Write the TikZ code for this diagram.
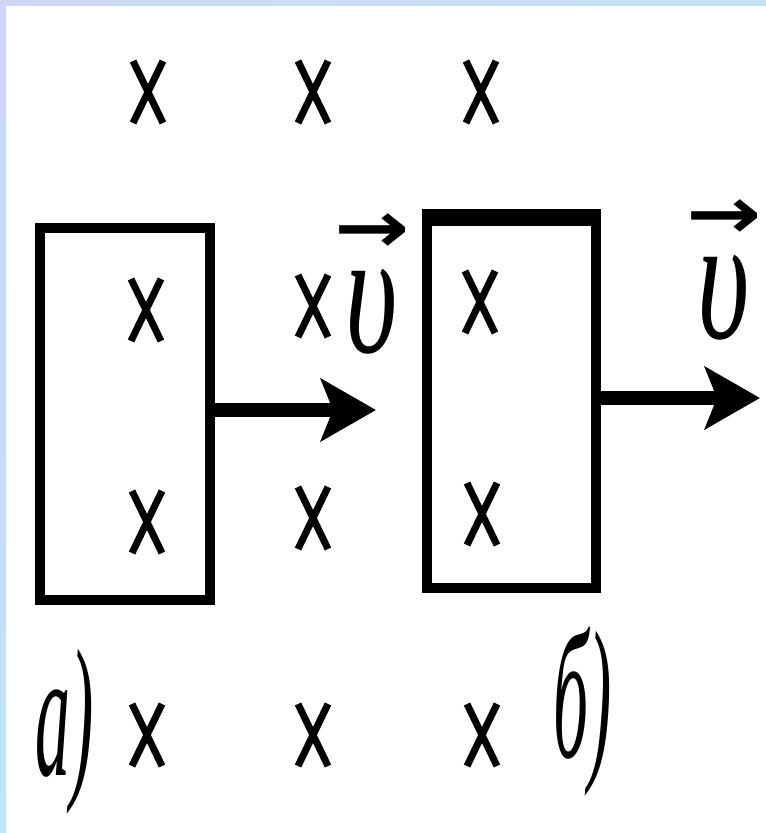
\documentclass[tikz,border=0pt]{standalone}
\usepackage{fontspec}
\setmainfont{Liberation Serif}
\newfontfamily\arrowfont{DejaVu Sans}
\usetikzlibrary{shapes.misc,arrows.meta}
\definecolor{edgeA}{RGB}{205,215,245}
\definecolor{edgeB}{RGB}{225,208,245}
\definecolor{edgeC}{RGB}{195,225,245}
\begin{document}
\begin{tikzpicture}[x=1pt,y=-1pt,
  fieldx/.style={cross out, draw, line width=7pt, minimum width=30pt, minimum height=62pt, inner sep=0pt, outer sep=0pt},
  frame/.style={draw, line width=10pt, inner sep=0pt, outer sep=0pt},
  vel/.style={line width=14pt, -{Stealth[length=55pt,width=62pt,inset=12pt]}},
  lbl/.style={font=\fontsize{70}{70}\selectfont\itshape, inner sep=0pt, anchor=base west},
  vlbl/.style={font=\fontsize{30}{30}\selectfont, inner sep=0pt, align=center}
]
\useasboundingbox (0,0) rectangle (766,833);
\fill[white] (0,0) rectangle (766,833);
\shade[left color=edgeA, middle color=edgeB, right color=edgeC] (0,0) rectangle (766,5);
\shade[top color=edgeA, bottom color=edgeC] (0,0) rectangle (6,833);

% frames
\node[frame, minimum width=170pt, minimum height=372pt] (boxa) at (125,414) {};
\node[frame, minimum width=169pt, minimum height=371pt] (boxb) at (511.5,402.5) {};
\draw[line width=17pt] ([xshift=-5pt]boxb.north west) -- ([xshift=5pt]boxb.north east);

% velocity arrows
\coordinate (tipa) at (376,410);
\coordinate (tipb) at (760,398);
\draw[vel] (boxa.east |- tipa) -- (tipa);
\draw[vel] (boxb.east |- tipb) -- (tipb);

% field crosses
\node[fieldx] (x11) at (148,92) {};
\node[fieldx] (x12) at (313,92) {};
\node[fieldx] (x13) at (481,92) {};
\node[fieldx] (x21) at (146,310) {};
\node[fieldx] (x22) at (313,306) {};
\node[fieldx] (x23) at (480,302) {};
\node[fieldx] (x31) at (147,522) {};
\node[fieldx] (x32) at (313,518) {};
\node[fieldx] (x33) at (482,514) {};
\node[fieldx] (x41) at (147,735) {};
\node[fieldx] (x42) at (313,735) {};
\node[fieldx] (x43) at (482,735) {};

% velocity labels
\node[vlbl] (va) at (372,284) {\scalebox{3}[2.4]{\arrowfont\bfseries →}\\[16pt]\scalebox{3.8}[5.9]{\itshape υ}};
\node[vlbl] (vb) at (724,270) {\scalebox{3}[2.4]{\arrowfont\bfseries →}\\[16pt]\scalebox{3.8}[5.9]{\itshape υ}};

% figure labels
\node[lbl] (la) at (35,775) {\scalebox{1}[2.6]{а)}};
\node[lbl] (lb) at (553,757) {\scalebox{1}[2.6]{б)}};
\end{tikzpicture}
\end{document}
